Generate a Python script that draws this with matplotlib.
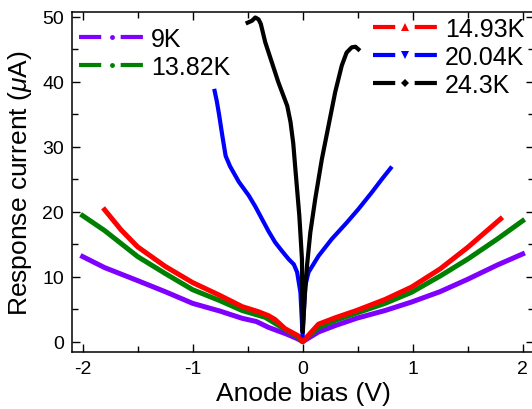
import matplotlib.pyplot as plt
from matplotlib.lines import Line2D

plt.rcParams['font.family'] = ['Liberation Sans', 'DejaVu Sans']
plt.rcParams['mathtext.fontset'] = 'custom'
plt.rcParams['mathtext.it'] = 'Liberation Sans:italic'
plt.rcParams['lines.scale_dashes'] = False
plt.rcParams['axes.unicode_minus'] = False

# 9K
v_9 = [-2.0, -1.8, -1.5, -1.25, -1.0, -0.75, -0.55, -0.42, -0.31, -0.15, -0.04, 0.0,
       0.145, 0.3, 0.49, 0.75, 0.99, 1.25, 1.5, 1.77, 2.0]
i_9 = [13.1, 11.4, 9.4, 7.7, 5.9, 4.7, 3.6, 3.1, 2.2, 1.2, 0.4, 0.0,
       1.5, 2.5, 3.6, 4.8, 6.1, 7.7, 9.6, 11.8, 13.5]

# 13.82K
v_1382 = [-2.0, -1.8, -1.5, -1.25, -1.0, -0.75, -0.55, -0.34, -0.19, -0.04, 0.0,
          0.145, 0.3, 0.49, 0.75, 0.99, 1.25, 1.5, 1.77, 2.0]
i_1382 = [19.4, 17.1, 13.1, 10.5, 8.0, 6.3, 4.8, 3.75, 2.2, 0.7, 0.0,
          2.2, 3.3, 4.4, 5.9, 7.6, 10.1, 12.7, 15.8, 18.6]

# 14.93K
v_1493 = [-1.8, -1.65, -1.5, -1.25, -1.0, -0.75, -0.55, -0.4, -0.31, -0.25, -0.16, -0.04, 0.0,
          0.145, 0.3, 0.49, 0.75, 0.99, 1.25, 1.5, 1.8]
i_1493 = [20.3, 17.2, 14.6, 11.6, 9.1, 7.1, 5.4, 4.6, 4.0, 3.4, 2.0, 0.9, 0.0,
          2.7, 3.7, 4.8, 6.5, 8.4, 11.2, 14.5, 18.9]

# 20.04K
v_2004 = [-0.80, -0.78, -0.76, -0.73, -0.70, -0.66, -0.58, -0.49, -0.43, -0.37, -0.31, -0.25,
          -0.19, -0.127, -0.08, -0.05, -0.02, 0.0,
          0.024, 0.054, 0.145, 0.265, 0.4, 0.507, 0.63, 0.72, 0.80]
i_2004 = [38.6, 37.0, 35.0, 31.7, 28.6, 27.0, 24.6, 22.5, 20.8, 18.9, 17.0, 15.3,
          14.0, 12.7, 11.9, 10.7, 7.6, 0.9,
          8.6, 10.7, 13.2, 15.8, 18.3, 20.4, 23.0, 25.0, 26.7]

# 24.3K
v_243 = [-0.50, -0.46, -0.43, -0.40, -0.38, -0.34, -0.28, -0.22, -0.14, -0.11, -0.085, -0.066,
         -0.03, -0.006, 0.0,
         0.018, 0.04, 0.07, 0.115, 0.175, 0.235, 0.296, 0.356, 0.40, 0.446, 0.48, 0.507]
i_243 = [49.1, 49.4, 49.9, 49.6, 48.9, 46.1, 43.0, 39.9, 36.3, 33.8, 30.5, 26.6,
         19.4, 12.7, 1.5,
         6.6, 11.7, 16.8, 22.0, 28.1, 33.2, 38.4, 42.5, 44.5, 45.3, 45.4, 45.0]

fig = plt.figure(figsize=(5.32, 4.10), dpi=100)
ax = fig.add_axes([0.1359, 0.1398, 0.8671, 0.8278])

ax.plot(v_9, i_9, color='#8000ff', lw=3.6, solid_joinstyle='round')
ax.plot(v_1382, i_1382, color='#008000', lw=3.6, solid_joinstyle='round')
ax.plot(v_1493, i_1493, color='#ff0000', lw=3.6, solid_joinstyle='round')
ax.plot(v_2004, i_2004, color='#0000ff', lw=3.0, solid_joinstyle='round')
ax.plot(v_243, i_243, color='black', lw=3.0, solid_joinstyle='round')

ax.set_xlim(-2.094, 2.1)
ax.set_ylim(-1.54, 50.7)
ax.set_xticks([-2, -1, 0, 1, 2])
ax.set_xticks([-1.5, -0.5, 0.5, 1.5], minor=True)
ax.set_yticks([0, 10, 20, 30, 40, 50])
ax.set_yticks([5, 15, 25, 35, 45], minor=True)
ax.tick_params(which='both', direction='in', top=True, right=True, width=1.0, labelsize=14, pad=6)
ax.tick_params(which='major', length=6)
ax.tick_params(which='minor', length=4)
for s in ax.spines.values():
    s.set_linewidth(1.1)

ax.set_xlabel('Anode bias (V)', fontsize=19, labelpad=3)
ax.set_ylabel(r'Response current ($\mu$A)', fontsize=19, labelpad=6)

dash = (0, (16, 14, 16, 100))

def handle(color, marker, ms):
    return Line2D([], [], color=color, lw=3, linestyle=dash, marker=marker,
                  markersize=ms, markeredgewidth=0)

h_left = [handle('#8000ff', 'o', 3.5), handle('#008000', 'o', 3.5)]
h_right = [handle('#ff0000', '^', 6), handle('#0000ff', 'v', 6), handle('black', 'D', 4)]

leg1 = ax.legend(h_left, ['9K', '13.82K'], loc='upper left', bbox_to_anchor=(0.0152, 0.958),
                 frameon=False, fontsize=18, borderpad=0, borderaxespad=0,
                 handlelength=2.58, handletextpad=0.3, labelspacing=0.16, numpoints=1)
ax.add_artist(leg1)
ax.legend(h_right, ['14.93K', '20.04K', '24.3K'], loc='upper left', bbox_to_anchor=(0.652, 0.986),
          frameon=False, fontsize=18, borderpad=0, borderaxespad=0,
          handlelength=2.58, handletextpad=0.3, labelspacing=0.16, numpoints=1)

fig.savefig('out.png', dpi=100)
